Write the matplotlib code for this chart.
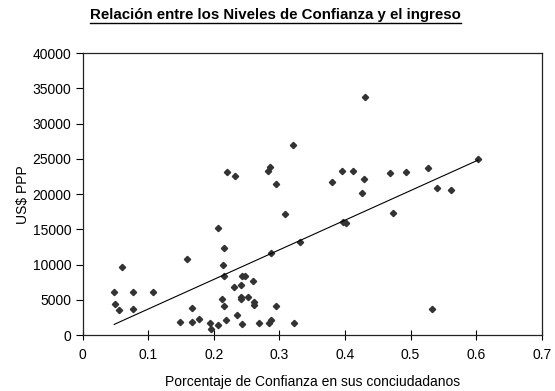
import numpy as np
import matplotlib.pyplot as plt
from matplotlib.lines import Line2D

plt.rcParams['font.family'] = ['Liberation Sans', 'DejaVu Sans']

# porcentaje de confianza (x) e ingreso US$ PPP (y)
confianza = [0.060, 0.048, 0.077, 0.107, 0.050, 0.056, 0.076, 0.149,
             0.159, 0.214, 0.287, 0.216, 0.243, 0.247, 0.260, 0.230,
             0.241, 0.212, 0.242, 0.241, 0.252, 0.261, 0.262, 0.215,
             0.295, 0.167, 0.236, 0.167, 0.178, 0.194, 0.195, 0.206,
             0.219, 0.243, 0.269, 0.284, 0.287, 0.323,
             0.207, 0.216, 0.321, 0.285, 0.283, 0.220, 0.233, 0.295,
             0.309, 0.332,
             0.430, 0.395, 0.412, 0.380, 0.429, 0.426, 0.468, 0.493,
             0.473, 0.397, 0.401, 0.526, 0.540, 0.561, 0.603, 0.533]
ingreso = [9690, 6050, 6140, 6140, 4400, 3550, 3690, 1890,
           10780, 9930, 11670, 8410, 8410, 8410, 7700, 6850,
           7130, 5060, 5430, 5100, 5340, 4640, 4250, 4110,
           4110, 3870, 2840, 1890, 2230, 1700, 850, 1420,
           2130, 1600, 1660, 1740, 2130, 1740,
           15220, 12290, 26940, 23780, 23300, 23160, 22550, 21370,
           17200, 13190,
           33790, 23300, 23350, 21700, 22080, 20140, 22970, 23160,
           17300, 16000, 15920, 23640, 20890, 20600, 24960, 3690]

x = np.array(confianza)
y = np.array(ingreso)

fig = plt.figure(figsize=(5.55, 3.91), dpi=100)
ax = fig.add_axes([0.149, 0.143, 0.827, 0.721])

# puntos
ax.plot(x, y, linestyle='none', marker='D', markersize=3.2, color='#333333')

# linea de tendencia (minimos cuadrados)
m, b = np.polyfit(x, y, 1)
xl = np.array([x.min(), x.max()])
ax.plot(xl, m * xl + b, color='black', linewidth=0.8)

ax.set_xlim(0, 0.7)
ax.set_ylim(0, 40000)
ax.set_xticks(np.arange(0, 0.71, 0.1))
ax.set_xticklabels(['0', '0.1', '0.2', '0.3', '0.4', '0.5', '0.6', '0.7'])
ax.set_yticks(np.arange(0, 40001, 5000))
ax.tick_params(axis='x', direction='inout', length=7, width=0.8, labelsize=10, pad=6)
ax.tick_params(axis='y', direction='out', length=5, width=0.8, labelsize=10, pad=3)
for s in ax.spines.values():
    s.set_linewidth(0.9)
    s.set_color('#222222')

ax.set_xlabel('Porcentaje de Confianza en sus conciudadanos', fontsize=10, labelpad=9)
ax.set_ylabel('US$ PPP', fontsize=10, labelpad=2)

t = fig.text(0.497, 0.962, 'Relación entre los Niveles de Confianza y el ingreso',
             ha='center', va='center', fontsize=10.8, fontweight='bold')
fig.canvas.draw()
bb = t.get_window_extent().transformed(fig.transFigure.inverted())
fig.add_artist(Line2D([bb.x0, bb.x1], [bb.y0 - 0.004, bb.y0 - 0.004],
                      transform=fig.transFigure, color='black', linewidth=1))

plt.savefig('out.png', dpi=100)
